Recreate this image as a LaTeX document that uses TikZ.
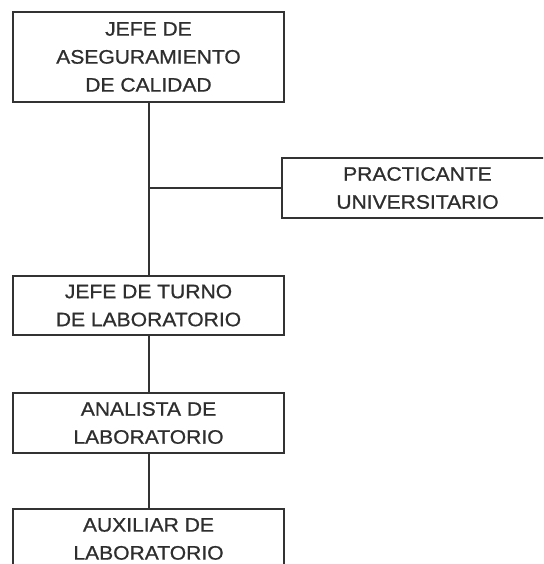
\documentclass[tikz,border=0pt]{standalone}
\usepackage{fontspec}
\newfontfamily\orgfont[FakeStretch=1.08,FakeBold=0.8]{Liberation Sans}
\definecolor{ink}{HTML}{333333}
\definecolor{txt}{HTML}{2E2E2E}
\begin{document}
\begin{tikzpicture}[x=1pt,y=-1pt,
  post/.style={draw=ink,line width=2pt,fill=white,rectangle,
    minimum width=271pt,inner sep=0pt,align=center,text=txt,
    font=\orgfont\fontsize{19.5}{28}\selectfont},
  link/.style={draw=ink,line width=2pt}]
\useasboundingbox (0,0) rectangle (543,564);
\clip (0,0) rectangle (543,564);
% positions of the posts
\node[post,minimum height=90pt] (jefe) at (148.5,57) {JEFE DE\\ASEGURAMIENTO\\DE CALIDAD};
\node[post,minimum height=60pt] (prac) at (417.5,188) {PRACTICANTE\\UNIVERSITARIO};
\node[post,minimum height=59pt] (turno) at (148.5,305.5) {JEFE DE TURNO\\DE LABORATORIO};
\node[post,minimum height=60pt] (anal) at (148.5,423) {ANALISTA DE\\LABORATORIO};
\node[post,minimum height=60pt] (aux) at (148.5,539) {AUXILIAR DE\\LABORATORIO};
% reporting lines
\draw[link] (jefe.south) -- (turno.north);
\draw[link] (prac.west) -- (prac.west -| jefe.south);
\draw[link] (turno.south) -- (anal.north);
\draw[link] (anal.south) -- (aux.north);
\end{tikzpicture}
\end{document}
